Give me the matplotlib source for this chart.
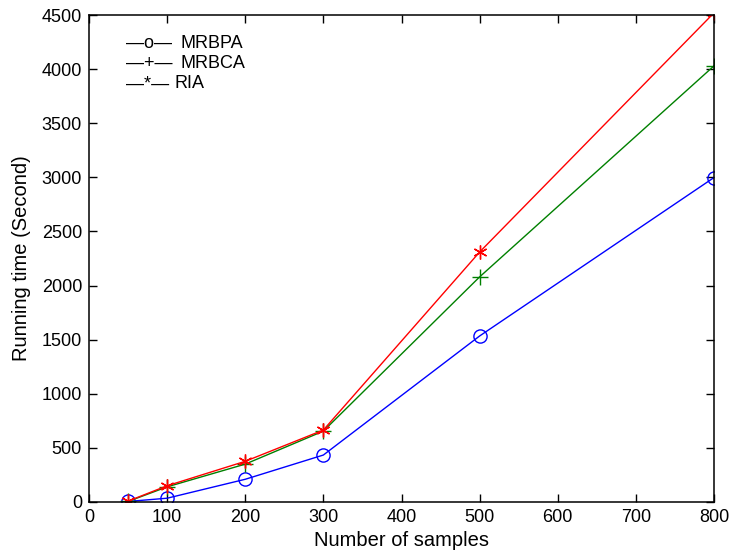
import matplotlib
matplotlib.use("Agg")
import matplotlib.pyplot as plt

plt.rcParams['font.family'] = ['Liberation Sans', 'DejaVu Sans']

samples = [50, 100, 200, 300, 500, 800]
mrbpa = [5, 35, 210, 434, 1534, 2998]
mrbca = [5, 140, 350, 655, 2080, 4030]
ria = [8, 150, 376, 665, 2310, 4520]
labels = ["MRBPA", "MRBCA", "RIA"]
marker_chars = ["o", "+", "*"]
xticks = [0, 100, 200, 300, 400, 500, 600, 700, 800]
yticks = [0, 500, 1000, 1500, 2000, 2500, 3000, 3500, 4000, 4500]

fig = plt.figure(figsize=(7.30, 5.56), dpi=100)
ax = fig.add_axes([89/730, 1 - 502/556, (714-89)/730, (502-15)/556])

ax.plot(samples, mrbpa, color='blue', lw=1.0, marker='o', ms=9.5, mfc='none', mew=1.0)
ax.plot(samples, mrbca, color='green', lw=1.0, marker='+', ms=11, mew=1.0)
ax.plot(samples, ria, color='red', lw=1.0, marker=(6, 2, 0), ms=10, mew=1.0)

ax.set_xlim(0, 800)
ax.set_ylim(0, 4500)
ax.set_xticks(xticks)
ax.set_yticks(yticks)
ax.tick_params(direction='in', length=6, width=1.0, labelsize=13, top=True, right=True,
               labeltop=False, labelright=False, pad=5)
for s in ax.spines.values():
    s.set_linewidth(1.1)
ax.set_xlabel("Number of samples", fontsize=14.5, labelpad=4)
ax.set_ylabel("Running time (Second)", fontsize=14.5, labelpad=8)

# MATLAB-style text legend
ys = [44, 64, 84]
for y, lab, mc in zip(ys, labels, marker_chars):
    yf = 1 - y/556
    fig.text(126/730, yf, "\u2014" + mc + "\u2014", fontsize=13, va='center', ha='left')
    fig.text(181/730 if mc != "*" else 175/730, yf, lab, fontsize=13, va='center', ha='left')

fig.savefig("out.png", dpi=100)
